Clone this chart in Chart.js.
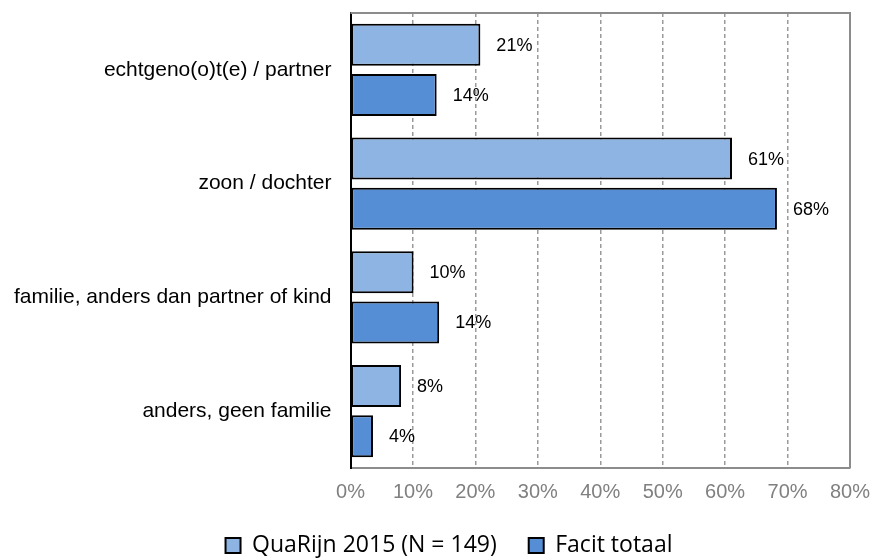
<!DOCTYPE html>
<html>
<head>
<meta charset="utf-8">
<script src="https://cdn.jsdelivr.net/npm/chart.js@4.4.0/dist/chart.umd.min.js"></script>
<style>
  html, body { margin: 0; padding: 0; background: #fff; }
  #wrap { width: 870px; height: 560px; position: relative; }
</style>
</head>
<body>
<div id="wrap"><canvas id="myChart"></canvas></div>
<script>
const categories = [
  'echtgeno(o)t(e) / partner',
  'zoon / dochter',
  'familie, anders dan partner of kind',
  'anders, geen familie'
];
const quarijn = [20.8, 61.1, 10.1, 8.1];
const facit = [13.8, 68.3, 14.2, 3.6];
const seriesNames = ['QuaRijn 2015 (N = 149)', 'Facit totaal'];

// percentages next to the bar ends
const barLabels = {
  id: 'barLabels',
  afterDatasetsDraw(chart) {
    const ctx = chart.ctx;
    ctx.save();
    ctx.font = '18px "Liberation Sans", Arial, sans-serif';
    ctx.fillStyle = '#000';
    ctx.textAlign = 'left';
    ctx.textBaseline = 'middle';
    chart.data.datasets.forEach((ds, i) => {
      chart.getDatasetMeta(i).data.forEach((bar, j) => {
        ctx.fillText(Math.round(ds.data[j]) + '%', bar.x + 16, bar.y + 1);
      });
    });
    ctx.restore();
  }
};

// gray frame on top and right of plot area
const frame = {
  id: 'frame',
  beforeDatasetsDraw(chart) {
    const a = chart.chartArea;
    const ctx = chart.ctx;
    ctx.save();
    ctx.strokeStyle = '#8c8c8c';
    ctx.lineWidth = 2;
    ctx.beginPath();
    ctx.moveTo(a.left, a.top);
    ctx.lineTo(a.right, a.top);
    ctx.lineTo(a.right, a.bottom);
    ctx.stroke();
    ctx.restore();
  }
};

// legend sits a bit right of the canvas centre
const legendShift = {
  id: 'legendShift',
  afterLayout(chart) {
    chart.legend.left += 24;
    chart.legend.right += 24;
  }
};

const data = {
  labels: categories,
  datasets: [{
    label: seriesNames[0],
    data: quarijn,
    backgroundColor: '#8db4e2',
    borderColor: '#000',
    borderWidth: 2,
    borderSkipped: false,
    categoryPercentage: 0.88,
    barPercentage: 0.84,
  }, {
    label: seriesNames[1],
    data: facit,
    backgroundColor: '#558ed5',
    borderColor: '#000',
    borderWidth: 2,
    borderSkipped: false,
    categoryPercentage: 0.88,
    barPercentage: 0.84,
  }]
};

const config = {
  type: 'bar',
  data: data,
  options: {
    indexAxis: 'y',
    responsive: true,
    maintainAspectRatio: false,
    animation: false,
    layout: { padding: { top: 13, left: 0, right: 20, bottom: -7 } },
    scales: {
      x: {
        min: 0,
        max: 80,
        ticks: {
          stepSize: 10,
          padding: 14,
          color: '#808080',
          font: { family: '"Liberation Sans", Arial, sans-serif', size: 20, lineHeight: 1 },
          callback: (v) => v + '%'
        },
        grid: {
          color: (c) => (c.index === 0 ? 'rgba(0,0,0,0)' : '#9a9a9a'),
          lineWidth: 1.5,
          drawTicks: false
        },
        border: { display: true, color: '#8c8c8c', width: 2, dash: [4, 3] },
        afterFit: (scale) => {
          scale.height = 34;
          scale.paddingLeft = 0;
          scale.paddingRight = 0;
        }
      },
      y: {
        ticks: {
          padding: 19,
          color: '#000',
          font: { family: '"Liberation Sans", Arial, sans-serif', size: 21 }
        },
        grid: { display: false, drawTicks: false },
        border: { display: true, color: '#000', width: 2 },
        afterFit: (scale) => {
          scale.width = 350.5;
          scale.paddingTop = 0;
          scale.paddingBottom = 0;
        }
      }
    },
    plugins: {
      legend: {
        position: 'bottom',
        labels: {
          boxWidth: 15,
          boxHeight: 15,
          padding: 32,
          color: '#000',
          font: { family: '"Open Sans", sans-serif', size: 23 }
        }
      },
      tooltip: { enabled: false }
    }
  },
  plugins: [frame, barLabels, legendShift]
};

const myChart = new Chart(document.getElementById('myChart'), config);
</script>
</body>
</html>
